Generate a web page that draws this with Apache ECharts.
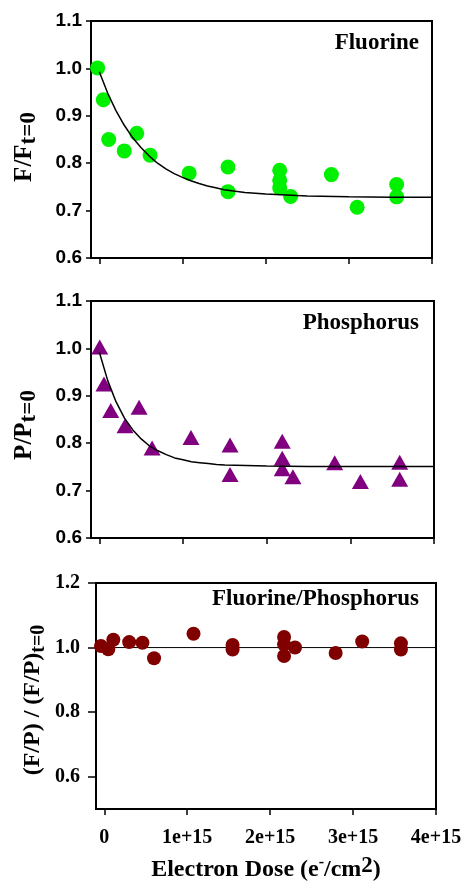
<!DOCTYPE html>
<html><head><meta charset="utf-8">
<script src="https://cdn.jsdelivr.net/npm/echarts@6/dist/echarts.min.js"></script>
<style>html,body{margin:0;padding:0;background:#fff}#c{width:462px;height:882px}</style>
</head><body><div id="c"></div>
<script>
// ---- data (dose in e-/cm^2) ----
const doseF = [-0.02e15,0.048e15,0.113e15,0.30e15,0.45e15,0.61e15,1.08e15,1.547e15,1.547e15,2.169e15,2.169e15,2.169e15,2.30e15,2.79e15,3.10e15,3.575e15,3.575e15];
const fluorine = [1.001,0.934,0.850,0.826,0.863,0.817,0.779,0.792,0.740,0.785,0.764,0.748,0.730,0.776,0.707,0.755,0.729];

const doseP = [0.004e15,0.055e15,0.136e15,0.307e15,0.475e15,0.63e15,1.095e15,1.562e15,1.562e15,2.186e15,2.186e15,2.186e15,2.314e15,2.813e15,3.12e15,3.59e15,3.59e15];
const phosphorus = [1.003,0.925,0.869,0.837,0.876,0.790,0.812,0.796,0.734,0.804,0.768,0.746,0.729,0.759,0.719,0.760,0.724];

const doseR = [-0.04e15,0.048e15,0.109e15,0.30e15,0.46e15,0.60e15,1.076e15,1.547e15,1.547e15,2.168e15,2.168e15,2.168e15,2.30e15,2.79e15,3.11e15,3.577e15,3.577e15];
const ratio = [1.005,0.995,1.024,1.017,1.015,0.967,1.043,1.008,0.994,1.033,1.010,0.974,1.000,0.983,1.019,1.013,0.994];

// fitted curves, values
const fitDose = [0,0.1e15,0.2e15,0.3e15,0.4e15,0.5e15,0.6e15,0.7e15,0.8e15,0.9e15,1.0e15,1.1e15,1.2e15,1.3e15,1.4e15,1.5e15,1.75e15,2.0e15,2.5e15,3.0e15,3.5e15,4.0e15];
const fitF = [0.993,0.948,0.911,0.880,0.854,0.833,0.815,0.800,0.788,0.778,0.770,0.763,0.757,0.752,0.748,0.744,0.738,0.735,0.731,0.729,0.728,0.728];
const fitP = [0.992,0.932,0.887,0.853,0.828,0.809,0.794,0.784,0.776,0.769,0.765,0.761,0.759,0.757,0.755,0.754,0.753,0.752,0.751,0.751,0.751,0.751];

const unityDose = [-0.1e15, 4.03e15];
const unityRatio = [1, 1];

const xTicks = [0, 1e15, 2e15, 3e15, 4e15];
const yTicksRatio = [0.6, 0.8, 1.0, 1.2];

const panelNames = ['Fluorine', 'Phosphorus', 'Fluorine/Phosphorus'];

// ---- helpers ----
const zip = (xs, ys) => xs.map((x, i) => [x, ys[i]]);
const SERIF = '"Liberation Serif", "Times New Roman", serif';
const SANS = '"Liberation Sans", Arial, sans-serif';

function xAxis(idx, showLabels) {
  return {
    type: 'value', gridIndex: idx, min: -0.1e15, max: 4e15,
    axisLine: { show: true, onZero: false, lineStyle: { color: '#000', width: 2 } },
    axisTick: { show: true, customValues: xTicks, length: 6, lineStyle: { color: '#000', width: 1.5 } },
    axisLabel: { show: showLabels, customValues: xTicks, margin: 19, hideOverlap: false,
      fontFamily: SERIF, fontWeight: 'bold', fontSize: 20, color: '#000',
      formatter: v => v === 0 ? '0' : Math.round(v / 1e15) + 'e+15' },
    splitLine: { show: false }
  };
}
function yAxisTop(idx) {
  return {
    type: 'value', gridIndex: idx, min: 0.6, max: 1.1, interval: 0.1,
    axisLine: { show: true, onZero: false, lineStyle: { color: '#000', width: 2 } },
    axisTick: { show: true, length: 5, lineStyle: { color: '#000', width: 1.5 } },
    axisLabel: { margin: 9, fontFamily: SANS, fontWeight: 'bold', fontSize: 19, color: '#000',
      formatter: v => v.toFixed(1) },
    splitLine: { show: false }
  };
}

const option = {
  backgroundColor: '#fff',
  animation: false,
  grid: [
    { left: 91, top: 21, right: 30, height: 237, show: true, borderColor: '#000', borderWidth: 2, outerBoundsMode: 'none', containLabel: false },
    { left: 91, top: 301, right: 28, height: 237, show: true, borderColor: '#000', borderWidth: 2, outerBoundsMode: 'none', containLabel: false },
    { left: 96, top: 583, right: 26, height: 226, show: true, borderColor: '#000', borderWidth: 2, outerBoundsMode: 'none', containLabel: false }
  ],
  xAxis: [
    xAxis(0, false), xAxis(1, false),
    Object.assign(xAxis(2, true), {
      name: '{m|Electron Dose (e}{s|-}{m|/cm}{t|2}{m|)}',
      nameLocation: 'middle', nameGap: 46,
      nameTextStyle: {
        rich: {
          m: { fontFamily: SERIF, fontWeight: 'bold', fontSize: 24, color: '#000', lineHeight: 30 },
          s: { fontFamily: SERIF, fontWeight: 'bold', fontSize: 16, color: '#000', lineHeight: 14, verticalAlign: 'top' },
          t: { fontFamily: SERIF, fontWeight: 'bold', fontSize: 23, color: '#000', lineHeight: 20, verticalAlign: 'top' }
        }
      }
    })
  ],
  yAxis: [
    yAxisTop(0), yAxisTop(1),
    {
      type: 'value', gridIndex: 2, min: 0.5, max: 1.2,
      axisLine: { show: true, onZero: false, lineStyle: { color: '#000', width: 2 } },
      axisTick: { show: true, customValues: yTicksRatio, length: 8, lineStyle: { color: '#000', width: 1.5 } },
      axisLabel: { customValues: yTicksRatio, margin: 16, fontFamily: SERIF, fontWeight: 'bold', fontSize: 20, color: '#000',
        formatter: v => v.toFixed(1) },
      splitLine: { show: false }
    }
  ],
  series: [
    { type: 'scatter', xAxisIndex: 0, yAxisIndex: 0, data: zip(doseF, fluorine),
      symbol: 'circle', symbolSize: 15, itemStyle: { color: '#00f000', opacity: 1 }, z: 2 },
    { type: 'line', xAxisIndex: 0, yAxisIndex: 0, data: zip(fitDose, fitF), smooth: false,
      showSymbol: false, lineStyle: { color: '#000', width: 1.5 }, z: 3 },
    { type: 'scatter', xAxisIndex: 1, yAxisIndex: 1, data: zip(doseP, phosphorus),
      symbol: 'triangle', symbolSize: [17, 15], itemStyle: { color: '#800080', opacity: 1 }, z: 2 },
    { type: 'line', xAxisIndex: 1, yAxisIndex: 1, data: zip(fitDose, fitP), smooth: false,
      showSymbol: false, lineStyle: { color: '#000', width: 1.5 }, z: 3 },
    { type: 'line', xAxisIndex: 2, yAxisIndex: 2, data: zip(unityDose, unityRatio), clip: false,
      showSymbol: false, lineStyle: { color: '#000', width: 1 }, z: 1 },
    { type: 'scatter', xAxisIndex: 2, yAxisIndex: 2, data: zip(doseR, ratio),
      symbol: 'circle', symbolSize: 14, itemStyle: { color: '#800000', opacity: 1 }, z: 2 }
  ],
  graphic: [
    { type: 'text', x: 419, y: 43, style: { text: panelNames[0], font: 'bold 23px ' + SERIF, fill: '#000', align: 'right', verticalAlign: 'middle' } },
    { type: 'text', x: 419, y: 323, style: { text: panelNames[1], font: 'bold 23px ' + SERIF, fill: '#000', align: 'right', verticalAlign: 'middle' } },
    { type: 'text', x: 419, y: 599, style: { text: panelNames[2], font: 'bold 23px ' + SERIF, fill: '#000', align: 'right', verticalAlign: 'middle' } },
    { type: 'text', x: 25, y: 147, rotation: Math.PI / 2,
      style: { text: '{m|F/F}{s|t=0}', align: 'center', verticalAlign: 'middle',
        rich: { m: { font: 'bold 25px ' + SERIF, fill: '#000', lineHeight: 32 },
                s: { font: 'bold 23px ' + SERIF, fill: '#000', lineHeight: 18, verticalAlign: 'bottom' } } } },
    { type: 'text', x: 25, y: 425, rotation: Math.PI / 2,
      style: { text: '{m|P/P}{s|t=0}', align: 'center', verticalAlign: 'middle',
        rich: { m: { font: 'bold 25px ' + SERIF, fill: '#000', lineHeight: 32 },
                s: { font: 'bold 23px ' + SERIF, fill: '#000', lineHeight: 18, verticalAlign: 'bottom' } } } },
    { type: 'text', x: 33, y: 700, rotation: Math.PI / 2,
      style: { text: '{m|(F/P) / (F/P)}{s|t=0}', align: 'center', verticalAlign: 'middle',
        rich: { m: { font: 'bold 24px ' + SERIF, fill: '#000', lineHeight: 32 },
                s: { font: 'bold 20px ' + SERIF, fill: '#000', lineHeight: 18, verticalAlign: 'bottom' } } } }
  ]
};

const chart = echarts.init(document.getElementById('c'), null, { renderer: 'canvas' });
chart.setOption(option);
</script>
</body></html>
